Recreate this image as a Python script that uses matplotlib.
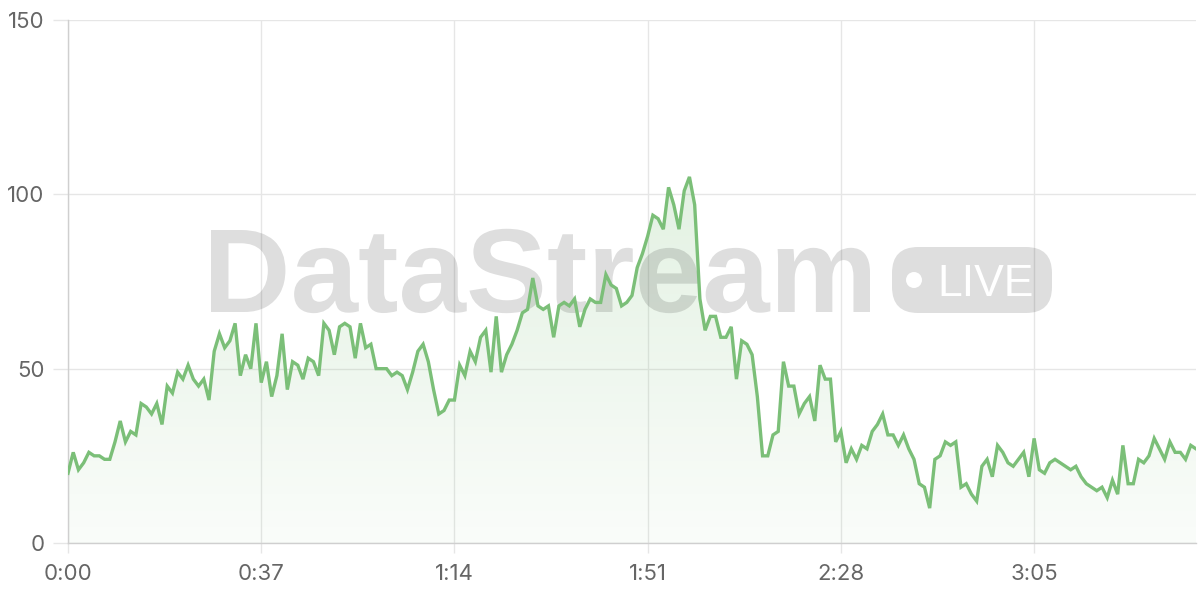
import numpy as np
import matplotlib
matplotlib.use("Agg")
import matplotlib.pyplot as plt
from matplotlib.patches import FancyBboxPatch, Circle, Polygon, PathPatch
from matplotlib.colors import LinearSegmentedColormap
from matplotlib.textpath import TextPath
from matplotlib.font_manager import FontProperties
from matplotlib.transforms import Affine2D

# ---- data (one sample per second) ----
values = [
    20, 26, 21, 23, 26, 25, 25, 24, 24, 29, 35, 29, 32, 31, 40, 39, 37, 40, 34, 45,
    43, 49, 47, 51, 47, 45, 47, 41, 55, 60, 56, 58, 63, 48, 54, 50, 63, 46, 52, 42,
    48, 60, 44, 52, 51, 47, 53, 52, 48, 63, 61, 54, 62, 63, 62, 53, 63, 56, 57, 50,
    50, 50, 48, 49, 48, 44, 49, 55, 57, 52, 44, 37, 38, 41, 41, 51, 48, 55, 52, 59,
    61, 49, 65, 49, 54, 57, 61, 66, 67, 76, 68, 67, 68, 59, 68, 69, 68, 70, 62, 67,
    70, 69, 69, 77, 74, 73, 68, 69, 71, 79, 83, 88, 94, 93, 90, 102, 97, 90, 101, 105,
    97, 70, 61, 65, 65, 59, 59, 62, 47, 58, 57, 54, 42, 25, 25, 31, 32, 52, 45, 45,
    37, 40, 42, 35, 51, 47, 47, 29, 32, 23, 27, 24, 28, 27, 32, 34, 37, 31, 31, 28,
    31, 27, 24, 17, 16, 10, 24, 25, 29, 28, 29, 16, 17, 14, 12, 22, 24, 19, 28, 26,
    23, 22, 24, 26, 19, 30, 21, 20, 23, 24, 23, 22, 21, 22, 19, 17, 16, 15, 16, 13,
    18, 14, 28, 17, 17, 24, 23, 25, 30, 27, 24, 29, 26, 26, 24, 28, 27,
]
seconds = list(range(len(values)))
tick_seconds = [0, 37, 74, 111, 148, 185]
tick_labels = ["0:00", "0:37", "1:14", "1:51", "2:28", "3:05"]
y_ticks = [0, 50, 100, 150]

LINE = "#7bbf78"
GRID = "#e6e6e6"
AXIS = "#cfcfcf"
TXT = "#666666"

plt.rcParams["font.family"] = ["Inter", "DejaVu Sans"]

fig = plt.figure(figsize=(12, 6), dpi=100)
ax = fig.add_axes([68 / 1200, 1 - 543 / 600, (1196 - 68) / 1200, (543 - 20) / 600])
ax.set_xlim(0, seconds[-1])
ax.set_ylim(0, 150)

x = np.array(seconds, dtype=float)
y = np.array(values, dtype=float)

# gradient fill under line
cmap = LinearSegmentedColormap.from_list(
    "g", [(0.48, 0.75, 0.47, 0.04), (0.48, 0.75, 0.47, 0.22)])
grad = np.linspace(0, 1, 256).reshape(-1, 1)
im = ax.imshow(grad, extent=[0, seconds[-1], 0, 110], origin="lower",
               aspect="auto", cmap=cmap, zorder=1, interpolation="bilinear")
poly = Polygon(np.column_stack([np.r_[x[0], x, x[-1]], np.r_[0, y, 0]]),
               closed=True, facecolor="none", edgecolor="none")
ax.add_patch(poly)
im.set_clip_path(poly)

# grid
ax.set_xticks(tick_seconds)
ax.set_xticklabels(tick_labels)
ax.set_yticks(y_ticks)
ax.set_yticklabels([str(v) for v in y_ticks])
ax.grid(True, color=GRID, lw=1, zorder=0)
ax.set_axisbelow(True)
for s in ["top", "right"]:
    ax.spines[s].set_visible(False)
for s in ["left", "bottom"]:
    ax.spines[s].set_color(AXIS)
    ax.spines[s].set_linewidth(1)
ax.tick_params(axis="y", length=11, color=GRID, width=1, labelsize=16,
               labelcolor=TXT, pad=6)
ax.tick_params(axis="x", length=7, color=GRID, width=1, labelsize=16,
               labelcolor=TXT, pad=8)

# watermark (semi-transparent overlay)
WM = "#000000"
WMA = 0.13
wm_ax = fig.add_axes([0, 0, 1, 1], facecolor="none")
wm_ax.set_xlim(0, 1200)
wm_ax.set_ylim(600, 0)
wm_ax.axis("off")
wm_ax.set_zorder(ax.get_zorder() + 1)

fp = FontProperties(family="Liberation Sans", weight="bold")
tp = TextPath((0, 0), "DataStream", size=100, prop=fp)
cap = TextPath((0, 0), "D", size=100, prop=fp).get_extents().y1
ext = tp.get_extents()
left, right, top, base = 211, 870, 230, 312
sx = (right - left) / (ext.x1 - ext.x0)
sy = (base - top) / cap
tr = Affine2D().translate(-ext.x0, 0).scale(sx, -sy).translate(left, base)
wm_ax.add_patch(PathPatch(tr.transform_path(tp), facecolor=WM, alpha=WMA,
                          edgecolor="none"))

pill = FancyBboxPatch((892, 247), 160, 66,
                      boxstyle="round,pad=0,rounding_size=26",
                      facecolor=WM, alpha=WMA, edgecolor="none")
wm_ax.add_patch(pill)
wm_ax.add_patch(Circle((914, 280), 8, facecolor="white", edgecolor="none"))
wm_ax.text(937, 295.5, "LIVE", fontsize=32, fontweight="normal",
           family="Liberation Sans", color="white", ha="left", va="baseline")

# line on top of watermark
ax2 = fig.add_axes(ax.get_position(), facecolor="none", sharex=ax, sharey=ax)
ax2.set_zorder(wm_ax.get_zorder() + 1)
ax2.axis("off")
ax2.plot(x, y, color=LINE, lw=2.4, solid_joinstyle="miter")

fig.savefig("out.png", dpi=100)
